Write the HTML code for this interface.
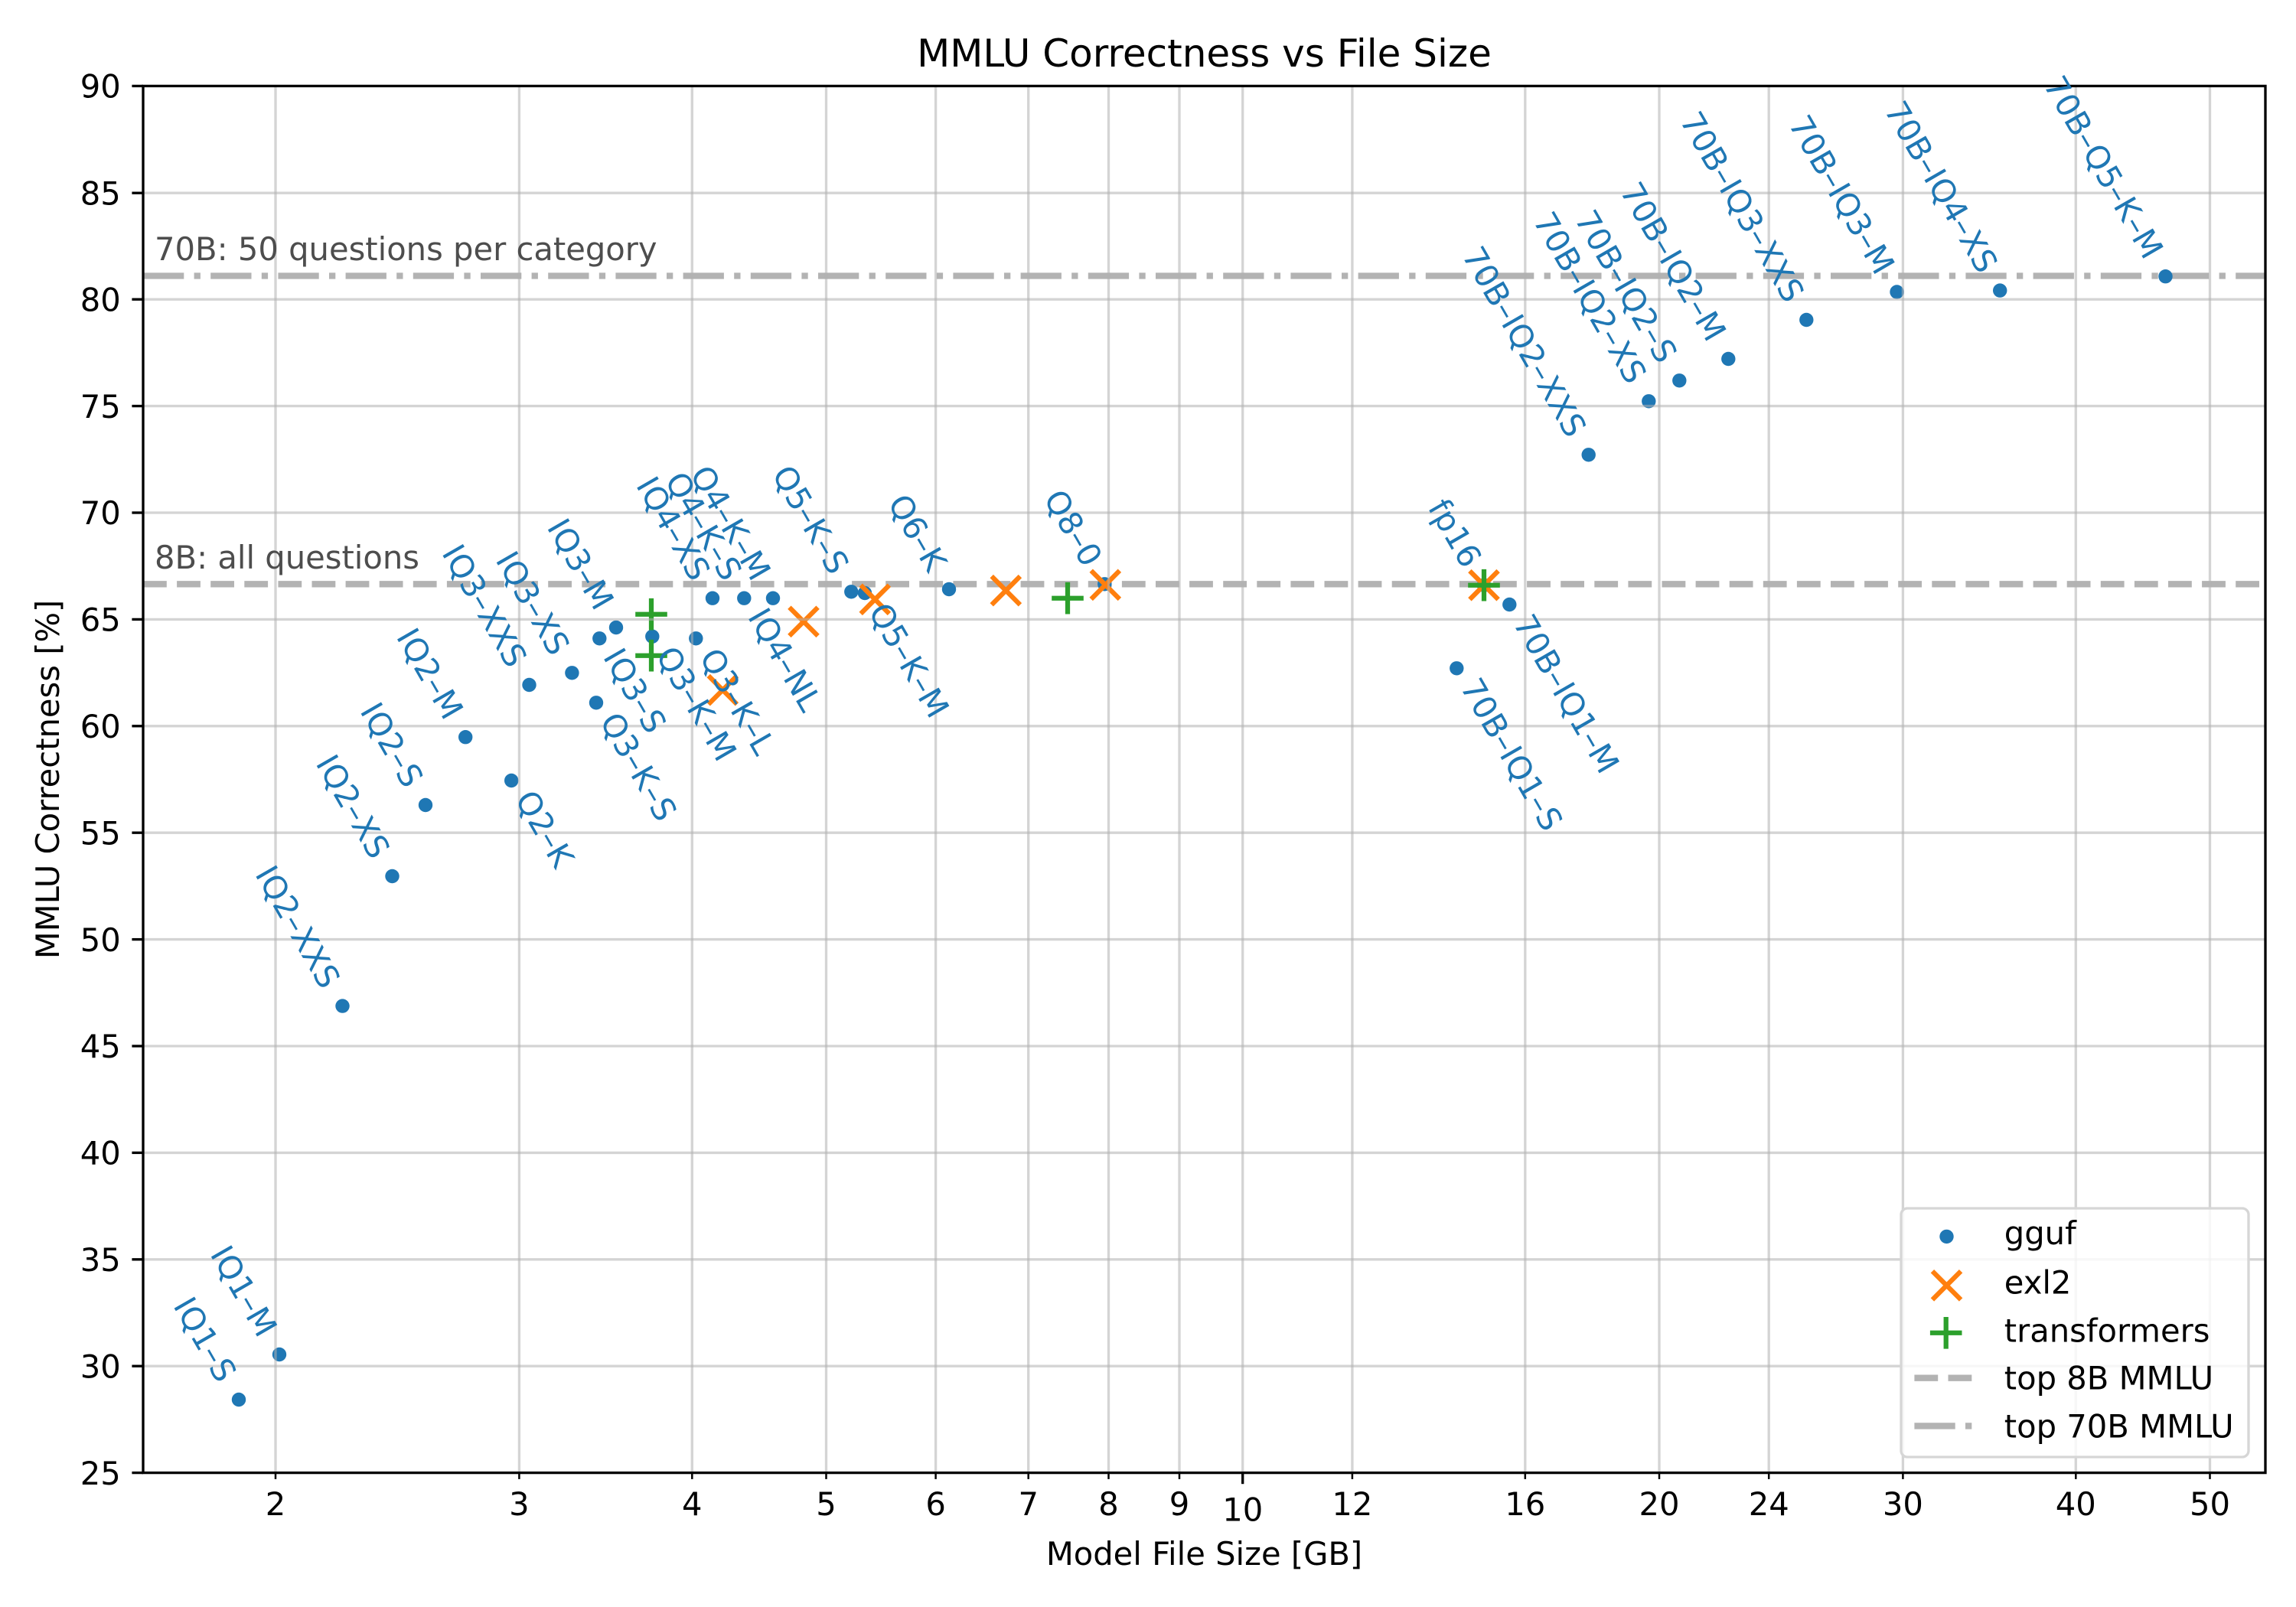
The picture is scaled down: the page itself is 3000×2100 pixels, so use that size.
<!DOCTYPE html>
<html>
<head>
<meta charset="utf-8">
<style>
html,body{margin:0;padding:0;background:#fff;}
svg{display:block;}
text{font-family:"DejaVu Sans","Liberation Sans",sans-serif;}
</style>
</head>
<body>
<svg xmlns="http://www.w3.org/2000/svg" width="3000" height="2100" viewBox="0 0 3000 2100">
<rect x="0" y="0" width="3000" height="2100" fill="#ffffff"/>

<!-- reference hlines -->
<line x1="187" y1="763.3" x2="2960" y2="763.3" stroke="#b3b3b3" stroke-width="8.33" stroke-dasharray="30.8 13.3"/>
<line x1="187" y1="360.5" x2="2960" y2="360.5" stroke="#b3b3b3" stroke-width="8.33" stroke-dasharray="53.3 13.3 8.3 13.3"/>

<!-- gguf dots -->
<g fill="#1f77b4">
<circle cx="312" cy="1829" r="9.2"/>
<circle cx="365" cy="1770" r="9.2"/>
<circle cx="447.5" cy="1314.6" r="9.2"/>
<circle cx="512.5" cy="1145" r="9.2"/>
<circle cx="556" cy="1052" r="9.2"/>
<circle cx="608.2" cy="963.2" r="9.2"/>
<circle cx="668.2" cy="1020" r="9.2"/>
<circle cx="691.5" cy="895" r="9.2"/>
<circle cx="747.4" cy="879.3" r="9.2"/>
<circle cx="783.3" cy="834.3" r="9.2"/>
<circle cx="805" cy="820" r="9.2"/>
<circle cx="779" cy="918.3" r="9.2"/>
<circle cx="852.3" cy="831.7" r="9.2"/>
<circle cx="909.3" cy="834.3" r="9.2"/>
<circle cx="931" cy="781.7" r="9.2"/>
<circle cx="972.3" cy="781.7" r="9.2"/>
<circle cx="1010" cy="781.7" r="9.2"/>
<circle cx="1112.3" cy="773.3" r="9.2"/>
<circle cx="1130" cy="775" r="9.2"/>
<circle cx="1240" cy="770" r="9.2"/>
<circle cx="1443.3" cy="763.3" r="9.2"/>
<circle cx="1939" cy="764.7" r="9.2"/>
<circle cx="1903.3" cy="873.3" r="9.2"/>
<circle cx="1972.3" cy="790" r="9.2"/>
<circle cx="2075.7" cy="594.3" r="9.2"/>
<circle cx="2154.3" cy="524.3" r="9.2"/>
<circle cx="2194.3" cy="497.3" r="9.2"/>
<circle cx="2258.3" cy="469" r="9.2"/>
<circle cx="2360.3" cy="418" r="9.2"/>
<circle cx="2478.5" cy="381.5" r="9.2"/>
<circle cx="2613.2" cy="379.6" r="9.2"/>
<circle cx="2829.5" cy="361.2" r="9.2"/>
</g>

<!-- exl2 X markers -->
<g stroke="#ff7f0e" stroke-width="6.25" fill="none">
<path d="M925.7 883.1L962.9 920.3M925.7 920.3L962.9 883.1"/>
<path d="M1031.4 793.7L1068.6 830.9M1031.4 830.9L1068.6 793.7"/>
<path d="M1124.7 764.7L1161.9 801.9M1124.7 801.9L1161.9 764.7"/>
<path d="M1295.7 753.1L1332.9 790.3M1295.7 790.3L1332.9 753.1"/>
<path d="M1425.7 745.7L1462.9 782.9M1425.7 782.9L1462.9 745.7"/>
<path d="M1920.4 746.1L1957.6 783.3M1920.4 783.3L1957.6 746.1"/>
</g>

<!-- transformers + markers -->
<g stroke="#2ca02c" stroke-width="6.25" fill="none">
<path d="M830.2 802.7H871.8M851 781.9V823.5"/>
<path d="M830.2 856.7H871.8M851 835.9V877.5"/>
<path d="M1374.2 781.7H1415.8M1395 760.9V802.5"/>
<path d="M1918.2 764.7H1959.8M1939 743.9V785.5"/>
</g>

<!-- grid -->
<g stroke="#b0b0b0" stroke-opacity="0.55" stroke-width="3.33">
<line x1="360" y1="112.4" x2="360" y2="1924.6"/>
<line x1="678.4" y1="112.4" x2="678.4" y2="1924.6"/>
<line x1="904.3" y1="112.4" x2="904.3" y2="1924.6"/>
<line x1="1079.5" y1="112.4" x2="1079.5" y2="1924.6"/>
<line x1="1222.6" y1="112.4" x2="1222.6" y2="1924.6"/>
<line x1="1343.7" y1="112.4" x2="1343.7" y2="1924.6"/>
<line x1="1448.5" y1="112.4" x2="1448.5" y2="1924.6"/>
<line x1="1541" y1="112.4" x2="1541" y2="1924.6"/>
<line x1="1623.7" y1="112.4" x2="1623.7" y2="1924.6"/>
<line x1="1766.9" y1="112.4" x2="1766.9" y2="1924.6"/>
<line x1="1992.8" y1="112.4" x2="1992.8" y2="1924.6"/>
<line x1="2168" y1="112.4" x2="2168" y2="1924.6"/>
<line x1="2311.2" y1="112.4" x2="2311.2" y2="1924.6"/>
<line x1="2486.4" y1="112.4" x2="2486.4" y2="1924.6"/>
<line x1="2712.3" y1="112.4" x2="2712.3" y2="1924.6"/>
<line x1="2887.5" y1="112.4" x2="2887.5" y2="1924.6"/>
<line x1="187" y1="252.2" x2="2960" y2="252.2"/>
<line x1="187" y1="391.2" x2="2960" y2="391.2"/>
<line x1="187" y1="530.6" x2="2960" y2="530.6"/>
<line x1="187" y1="670" x2="2960" y2="670"/>
<line x1="187" y1="809.4" x2="2960" y2="809.4"/>
<line x1="187" y1="948.8" x2="2960" y2="948.8"/>
<line x1="187" y1="1088.2" x2="2960" y2="1088.2"/>
<line x1="187" y1="1227.6" x2="2960" y2="1227.6"/>
<line x1="187" y1="1367" x2="2960" y2="1367"/>
<line x1="187" y1="1506.4" x2="2960" y2="1506.4"/>
<line x1="187" y1="1645.8" x2="2960" y2="1645.8"/>
<line x1="187" y1="1785.2" x2="2960" y2="1785.2"/>
</g>

<!-- spines -->
<rect x="187" y="112.4" width="2773" height="1812.2" fill="none" stroke="#000" stroke-width="3.33"/>

<!-- y ticks -->
<g stroke="#000" stroke-width="3.33">
<line x1="172.4" y1="112.4" x2="187" y2="112.4"/>
<line x1="172.4" y1="252.2" x2="187" y2="252.2"/>
<line x1="172.4" y1="391.2" x2="187" y2="391.2"/>
<line x1="172.4" y1="530.6" x2="187" y2="530.6"/>
<line x1="172.4" y1="670" x2="187" y2="670"/>
<line x1="172.4" y1="809.4" x2="187" y2="809.4"/>
<line x1="172.4" y1="948.8" x2="187" y2="948.8"/>
<line x1="172.4" y1="1088.2" x2="187" y2="1088.2"/>
<line x1="172.4" y1="1227.6" x2="187" y2="1227.6"/>
<line x1="172.4" y1="1367" x2="187" y2="1367"/>
<line x1="172.4" y1="1506.4" x2="187" y2="1506.4"/>
<line x1="172.4" y1="1645.8" x2="187" y2="1645.8"/>
<line x1="172.4" y1="1785.2" x2="187" y2="1785.2"/>
<line x1="172.4" y1="1924.6" x2="187" y2="1924.6"/>
<line x1="1623.7" y1="1924.6" x2="1623.7" y2="1939.2"/>
</g>
<!-- x minor ticks -->
<g stroke="#000" stroke-width="2.5">
<line x1="360" y1="1924.6" x2="360" y2="1932.9"/>
<line x1="678.4" y1="1924.6" x2="678.4" y2="1932.9"/>
<line x1="904.3" y1="1924.6" x2="904.3" y2="1932.9"/>
<line x1="1079.5" y1="1924.6" x2="1079.5" y2="1932.9"/>
<line x1="1222.6" y1="1924.6" x2="1222.6" y2="1932.9"/>
<line x1="1343.7" y1="1924.6" x2="1343.7" y2="1932.9"/>
<line x1="1448.5" y1="1924.6" x2="1448.5" y2="1932.9"/>
<line x1="1541" y1="1924.6" x2="1541" y2="1932.9"/>
<line x1="1766.9" y1="1924.6" x2="1766.9" y2="1932.9"/>
<line x1="1992.8" y1="1924.6" x2="1992.8" y2="1932.9"/>
<line x1="2168" y1="1924.6" x2="2168" y2="1932.9"/>
<line x1="2311.2" y1="1924.6" x2="2311.2" y2="1932.9"/>
<line x1="2486.4" y1="1924.6" x2="2486.4" y2="1932.9"/>
<line x1="2712.3" y1="1924.6" x2="2712.3" y2="1932.9"/>
<line x1="2887.5" y1="1924.6" x2="2887.5" y2="1932.9"/>
</g>

<!-- y tick labels -->
<g font-size="41.67" fill="#000" text-anchor="end">
<text x="157.8" y="127.6">90</text>
<text x="157.8" y="267.4">85</text>
<text x="157.8" y="406.4">80</text>
<text x="157.8" y="545.8">75</text>
<text x="157.8" y="685.2">70</text>
<text x="157.8" y="824.6">65</text>
<text x="157.8" y="964">60</text>
<text x="157.8" y="1103.4">55</text>
<text x="157.8" y="1242.8">50</text>
<text x="157.8" y="1382.2">45</text>
<text x="157.8" y="1521.6">40</text>
<text x="157.8" y="1661">35</text>
<text x="157.8" y="1800.4">30</text>
<text x="157.8" y="1939.8">25</text>
</g>

<!-- x tick labels -->
<g font-size="41.67" fill="#000" text-anchor="middle">
<text x="360" y="1980">2</text>
<text x="678.4" y="1980">3</text>
<text x="904.3" y="1980">4</text>
<text x="1079.5" y="1980">5</text>
<text x="1222.6" y="1980">6</text>
<text x="1343.7" y="1980">7</text>
<text x="1448.5" y="1980">8</text>
<text x="1541" y="1980">9</text>
<text x="1623.7" y="1987.3">10</text>
<text x="1766.9" y="1980">12</text>
<text x="1992.8" y="1980">16</text>
<text x="2168" y="1980">20</text>
<text x="2311.2" y="1980">24</text>
<text x="2486.4" y="1980">30</text>
<text x="2712.3" y="1980">40</text>
<text x="2887.5" y="1980">50</text>
</g>

<!-- axis labels & title -->
<text x="1573.5" y="2045" font-size="41.67" text-anchor="middle" fill="#000">Model File Size [GB]</text>
<text transform="translate(77,1018.5) rotate(-90)" font-size="41.67" text-anchor="middle" fill="#000">MMLU Correctness [%]</text>
<text x="1573.5" y="87" font-size="50" text-anchor="middle" fill="#000">MMLU Correctness vs File Size</text>

<!-- reference text -->
<text x="202" y="340" font-size="41.67" fill="#4d4d4d">70B: 50 questions per category</text>
<text x="202" y="743" font-size="41.67" fill="#4d4d4d">8B: all questions</text>

<!-- point labels: ending at point -->
<g font-size="41.67" fill="#1f77b4" text-anchor="end">
<text transform="translate(285,1809) rotate(60)">IQ1–S</text>
<text transform="translate(338,1750) rotate(60)">IQ1–M</text>
<text transform="translate(420.5,1294.6) rotate(60)">IQ2–XXS</text>
<text transform="translate(485.5,1125) rotate(60)">IQ2–XS</text>
<text transform="translate(529,1032) rotate(60)">IQ2–S</text>
<text transform="translate(581.2,943.2) rotate(60)">IQ2–M</text>
<text transform="translate(664.5,875) rotate(60)">IQ3–XXS</text>
<text transform="translate(720.4,859.3) rotate(60)">IQ3–XS</text>
<text transform="translate(778,800) rotate(60)">IQ3–M</text>
<text transform="translate(904,761.7) rotate(60)">IQ4–XS</text>
<text transform="translate(945.3,761.7) rotate(60)">Q4–K–S</text>
<text transform="translate(983,761.7) rotate(60)">Q4–K–M</text>
<text transform="translate(1085.3,753.3) rotate(60)">Q5–K–S</text>
<text transform="translate(1213,750) rotate(60)">Q6–K</text>
<text transform="translate(1416.3,743.3) rotate(60)">Q8–0</text>
<text transform="translate(1912,744.7) rotate(60)">fp16</text>
<text transform="translate(2048.7,574.3) rotate(60)">70B–IQ2–XXS</text>
<text transform="translate(2127.3,504.3) rotate(60)">70B–IQ2–XS</text>
<text transform="translate(2167.3,477.3) rotate(60)">70B–IQ2–S</text>
<text transform="translate(2231.3,449) rotate(60)">70B–IQ2–M</text>
<text transform="translate(2333.3,398) rotate(60)">70B–IQ3–XXS</text>
<text transform="translate(2451.5,361.5) rotate(60)">70B–IQ3–M</text>
<text transform="translate(2586.2,359.6) rotate(60)">70B–IQ4–XS</text>
<text transform="translate(2802.5,341.2) rotate(60)">70B–Q5–K–M</text>
</g>
<!-- point labels: starting at point -->
<g font-size="41.67" fill="#1f77b4" text-anchor="start">
<text transform="translate(672.2,1044) rotate(60)">Q2–K</text>
<text transform="translate(787.3,858.3) rotate(60)">IQ3–S</text>
<text transform="translate(783,942.3) rotate(60)">Q3–K–S</text>
<text transform="translate(856.3,855.7) rotate(60)">Q3–K–M</text>
<text transform="translate(913.3,858.3) rotate(60)">Q3–K–L</text>
<text transform="translate(976.3,805.7) rotate(60)">IQ4–NL</text>
<text transform="translate(1134,799) rotate(60)">Q5–K–M</text>
<text transform="translate(1907.3,897.3) rotate(60)">70B–IQ1–S</text>
<text transform="translate(1976.3,814) rotate(60)">70B–IQ1–M</text>
</g>

<!-- legend -->
<rect x="2484" y="1579" width="454" height="325" rx="8.3" ry="8.3" fill="#ffffff" fill-opacity="0.8" stroke="#d6d6d6" stroke-width="3.33"/>
<circle cx="2543.5" cy="1615.9" r="9.2" fill="#1f77b4"/>
<path d="M2524.9 1661.2L2562.1 1698.4M2524.9 1698.4L2562.1 1661.2" stroke="#ff7f0e" stroke-width="6.25" fill="none"/>
<path d="M2521.9 1741.8H2563.5M2542.7 1721V1762.6" stroke="#2ca02c" stroke-width="6.25" fill="none"/>
<line x1="2501.4" y1="1800.7" x2="2584.7" y2="1800.7" stroke="#b3b3b3" stroke-width="8.33" stroke-dasharray="30.8 13.3"/>
<line x1="2501.4" y1="1863.4" x2="2584.7" y2="1863.4" stroke="#b3b3b3" stroke-width="8.33" stroke-dasharray="53.3 13.3 8.3 13.3"/>
<g font-size="41.67" fill="#000">
<text x="2618.8" y="1626.2">gguf</text>
<text x="2618.8" y="1690.5">exl2</text>
<text x="2618.8" y="1753.3">transformers</text>
<text x="2618.8" y="1815.6">top 8B MMLU</text>
<text x="2618.8" y="1878.7">top 70B MMLU</text>
</g>
</svg>
</body>
</html>
